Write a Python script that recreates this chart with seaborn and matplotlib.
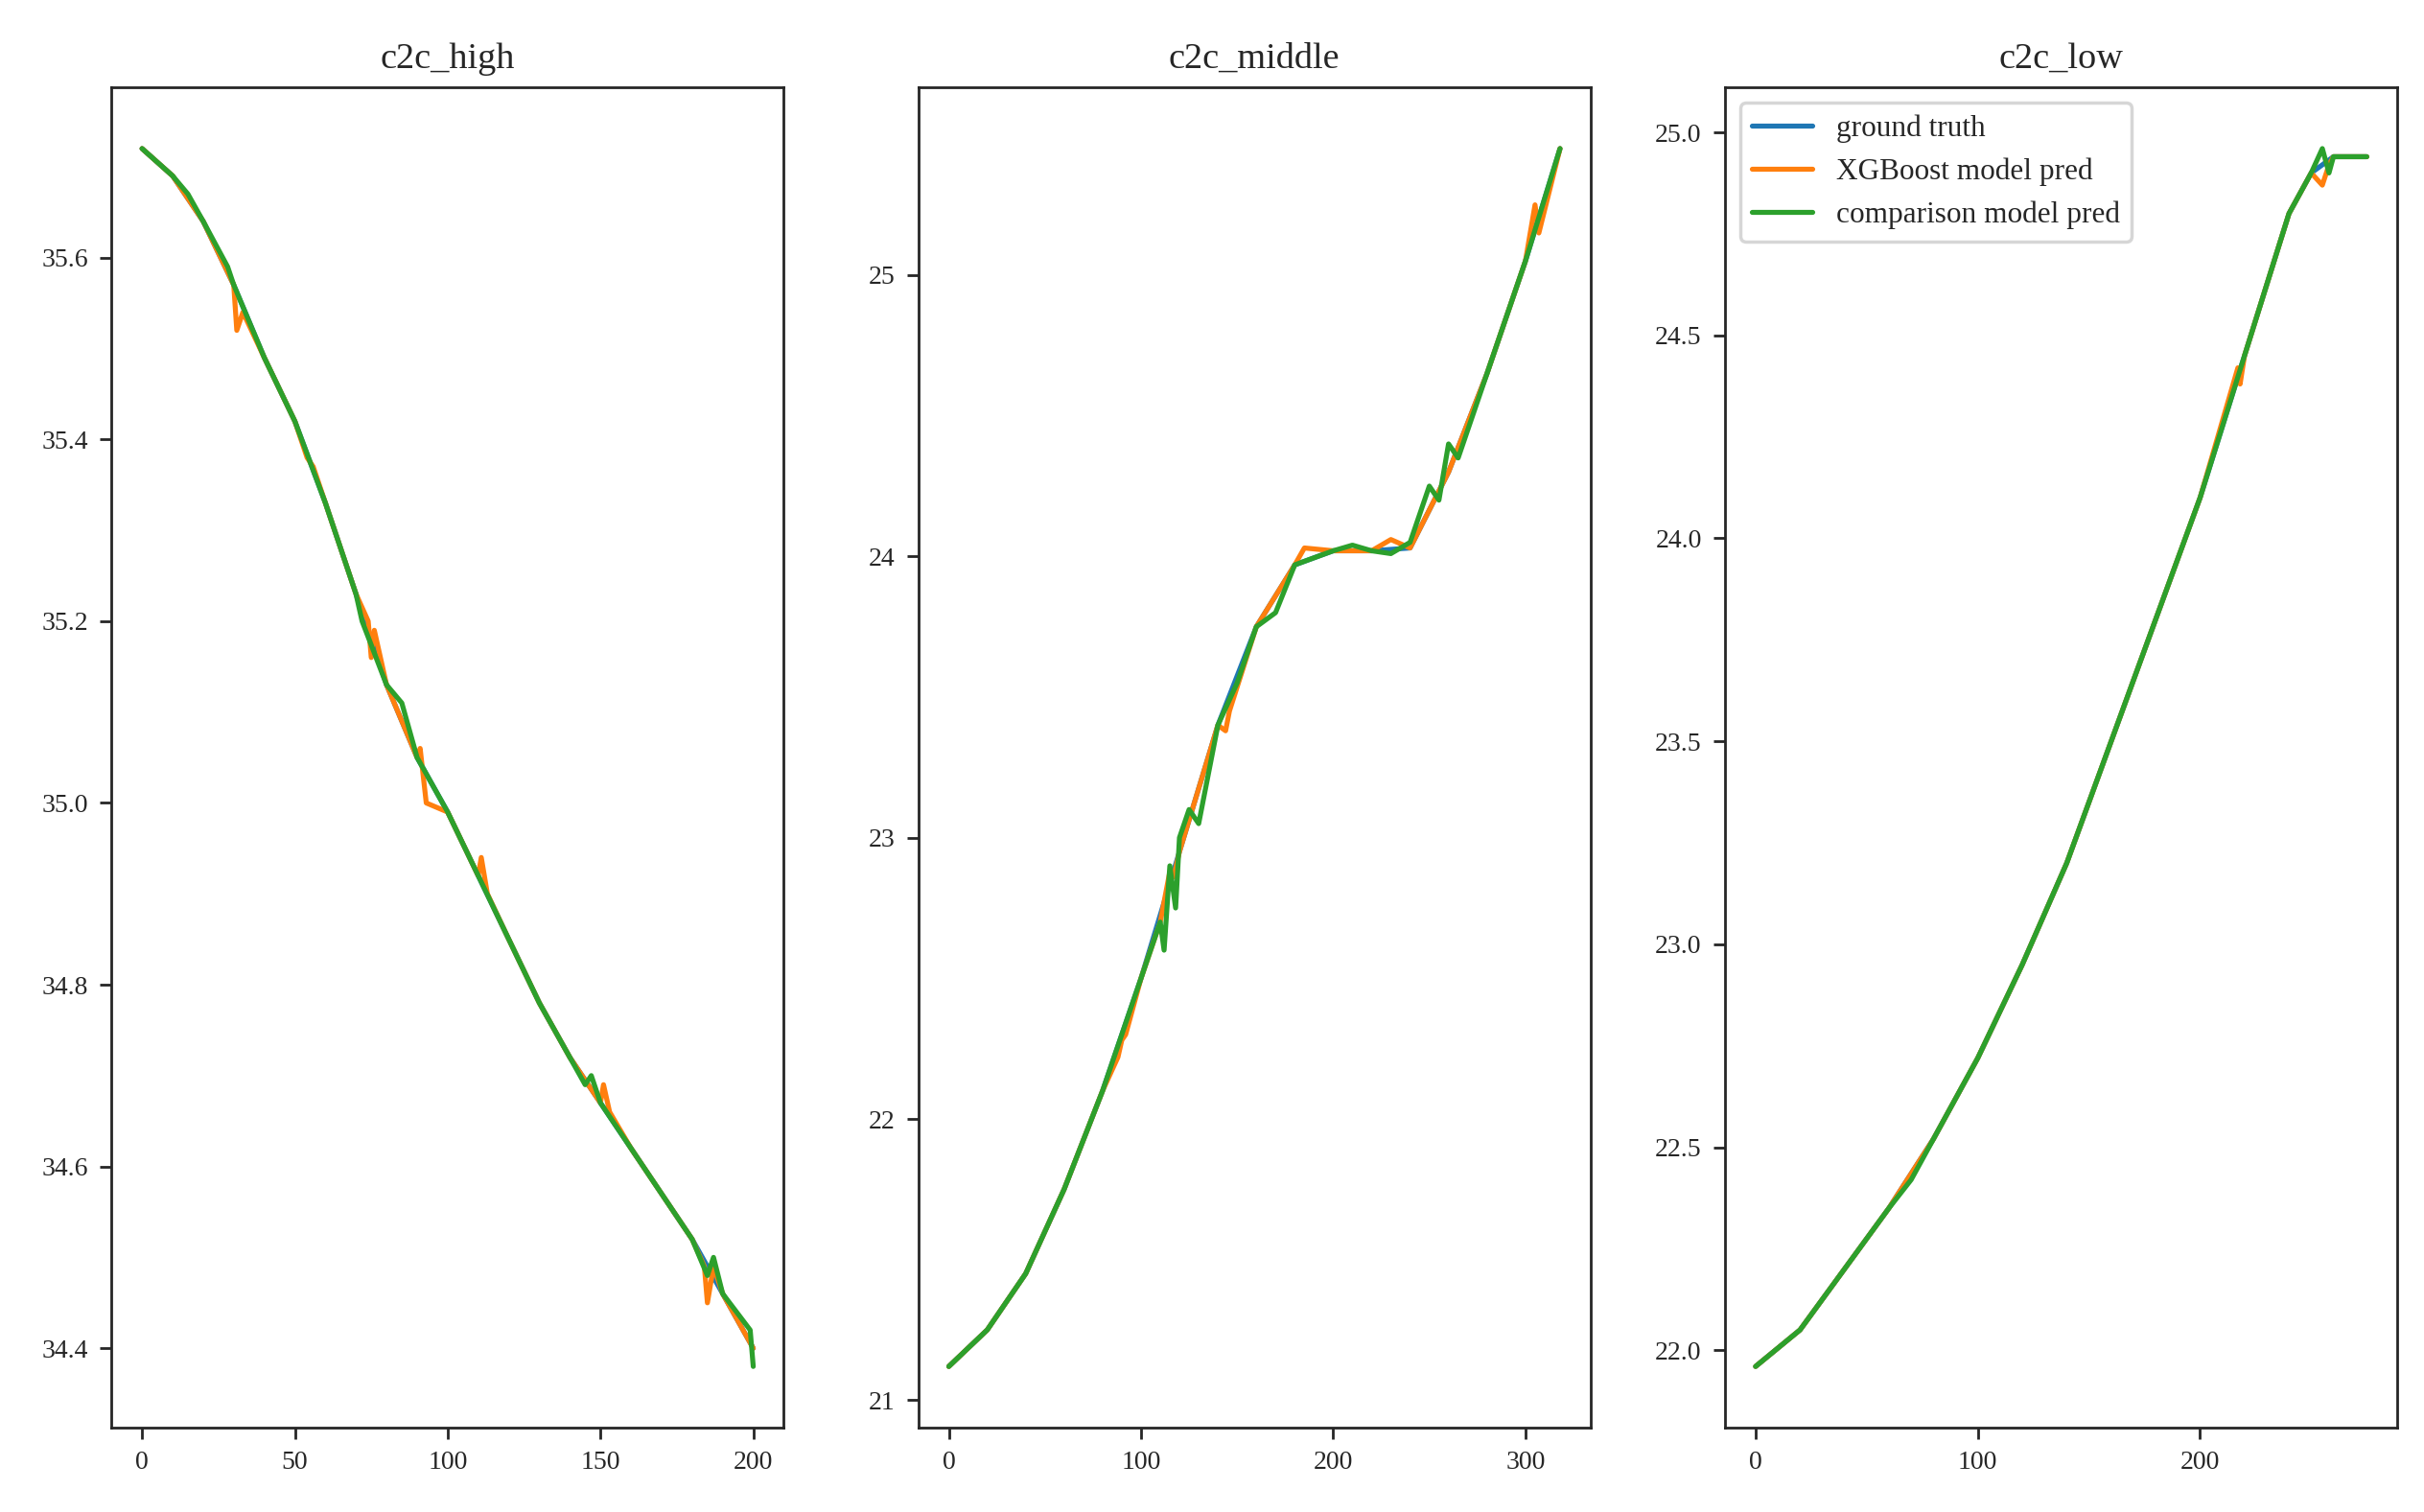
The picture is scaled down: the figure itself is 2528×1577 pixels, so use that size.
import matplotlib
matplotlib.use("Agg")
import matplotlib.pyplot as plt
import seaborn as sns

# c2c_high
high_x = [0, 10, 20, 30, 40, 50, 60, 70, 80, 90, 100, 110, 120, 130, 140, 150, 160, 170, 180, 190, 200]
high_gt = [35.72, 35.69, 35.64, 35.57, 35.49, 35.42, 35.33, 35.23, 35.13, 35.05, 34.99,
           34.92, 34.85, 34.78, 34.72, 34.67, 34.62, 34.57, 34.52, 34.46, 34.40]
high_xgb_x = [0, 10, 20, 30, 31, 33, 40, 50, 54, 56, 60, 70, 74, 75, 76, 80, 90, 91, 93, 100, 110,
              111, 113, 120, 130, 140, 150, 151, 153, 160, 170, 180, 184, 185, 187, 190, 200]
high_xgb = [35.72, 35.69, 35.64, 35.57, 35.52, 35.54, 35.49, 35.42, 35.38, 35.37, 35.33, 35.23,
            35.20, 35.16, 35.19, 35.13, 35.05, 35.06, 35.00, 34.99, 34.92, 34.94, 34.90, 34.85,
            34.78, 34.72, 34.67, 34.69, 34.66, 34.62, 34.57, 34.52, 34.49, 34.45, 34.49, 34.46, 34.40]
high_cmp_x = [0, 10, 15, 20, 28, 30, 40, 50, 60, 63, 70, 72, 80, 85, 90, 100, 110, 120, 130, 140,
              145, 147, 150, 160, 170, 180, 185, 187, 190, 199, 200]
high_cmp = [35.72, 35.69, 35.67, 35.64, 35.59, 35.57, 35.49, 35.42, 35.33, 35.30, 35.23, 35.20, 35.13,
            35.11, 35.05, 34.99, 34.92, 34.85, 34.78, 34.72, 34.69, 34.70, 34.67, 34.62, 34.57, 34.52,
            34.48, 34.50, 34.46, 34.42, 34.38]

# c2c_middle
mid_x = [0, 20, 40, 60, 80, 100, 120, 140, 160, 180, 200, 220, 240, 260, 280, 300, 318]
mid_gt = [21.12, 21.25, 21.45, 21.75, 22.10, 22.50, 22.95, 23.40, 23.75, 23.97, 24.02, 24.02, 24.03,
          24.30, 24.65, 25.05, 25.45]
mid_xgb_x = [0, 20, 40, 60, 80, 88, 90, 92, 100, 110, 115, 117, 120, 140, 144, 146, 160, 180, 185,
             200, 220, 230, 240, 260, 280, 300, 305, 307, 318]
mid_xgb = [21.12, 21.25, 21.45, 21.75, 22.10, 22.22, 22.28, 22.30, 22.50, 22.70, 22.88, 22.86, 22.95,
           23.40, 23.38, 23.45, 23.75, 23.97, 24.03, 24.02, 24.02, 24.06, 24.03, 24.30, 24.65, 25.05,
           25.25, 25.15, 25.45]
mid_cmp_x = [0, 20, 40, 60, 80, 100, 110, 112, 115, 118, 120, 125, 130, 140, 150, 160, 170, 180,
             200, 210, 220, 230, 240, 250, 255, 260, 265, 280, 300, 318]
mid_cmp = [21.12, 21.25, 21.45, 21.75, 22.10, 22.50, 22.70, 22.60, 22.90, 22.75, 23.00, 23.10, 23.05,
           23.40, 23.55, 23.75, 23.80, 23.97, 24.02, 24.04, 24.02, 24.01, 24.05, 24.25, 24.20, 24.40,
           24.35, 24.65, 25.05, 25.45]

# c2c_low
low_x = [0, 20, 40, 60, 80, 100, 120, 140, 160, 180, 200, 220, 240, 250, 260, 275]
low_gt = [21.96, 22.05, 22.20, 22.35, 22.52, 22.72, 22.95, 23.20, 23.50, 23.80, 24.10, 24.45, 24.80,
          24.90, 24.94, 24.94]
low_xgb_x = [0, 20, 40, 60, 80, 100, 120, 140, 160, 180, 200, 217, 218, 220, 240, 250, 255, 258, 260, 275]
low_xgb = [21.96, 22.05, 22.20, 22.35, 22.52, 22.72, 22.95, 23.20, 23.50, 23.80, 24.10, 24.42, 24.38,
           24.45, 24.80, 24.90, 24.87, 24.92, 24.94, 24.94]
low_cmp_x = [0, 20, 40, 60, 70, 80, 100, 120, 140, 160, 180, 200, 220, 240, 250, 255, 258, 260, 265, 275]
low_cmp = [21.96, 22.05, 22.20, 22.35, 22.42, 22.52, 22.72, 22.95, 23.20, 23.50, 23.80, 24.10, 24.45,
           24.80, 24.90, 24.96, 24.90, 24.94, 24.94, 24.94]

sns.set_style("ticks")
plt.rcParams["font.family"] = ["Liberation Serif", "DejaVu Serif"]

fig, axes = plt.subplots(1, 3, figsize=(10.112, 6.308), dpi=250)
panels = [
    ("c2c_high", high_x, high_gt, high_xgb_x, high_xgb, high_cmp_x, high_cmp),
    ("c2c_middle", mid_x, mid_gt, mid_xgb_x, mid_xgb, mid_cmp_x, mid_cmp),
    ("c2c_low", low_x, low_gt, low_xgb_x, low_xgb, low_cmp_x, low_cmp),
]
for ax, (title, gx, gy, xx, xy, cx, cy) in zip(axes, panels):
    sns.lineplot(x=gx, y=gy, ax=ax, color="#1f77b4", label="ground truth", linewidth=1.5)
    sns.lineplot(x=xx, y=xy, ax=ax, color="#ff7f0e", label="XGBoost model pred", linewidth=1.5)
    sns.lineplot(x=cx, y=cy, ax=ax, color="#2ca02c", label="comparison model pred", linewidth=1.5)
    ax.set_title(title, fontsize=11)
    ax.tick_params(labelsize=8)
    if title != "c2c_low":
        ax.get_legend().remove()
    else:
        ax.legend(loc="upper left", fontsize=9)

axes[0].set_yticks([34.4, 34.6, 34.8, 35.0, 35.2, 35.4, 35.6])
axes[0].set_xticks([0, 50, 100, 150, 200])
axes[1].set_yticks([21, 22, 23, 24, 25])
axes[1].set_xticks([0, 100, 200, 300])
axes[2].set_yticks([22.0, 22.5, 23.0, 23.5, 24.0, 24.5, 25.0])
axes[2].set_xticks([0, 100, 200])

plt.subplots_adjust(left=0.046, right=0.989, bottom=0.056, top=0.942, wspace=0.2)
plt.savefig("out.png")
